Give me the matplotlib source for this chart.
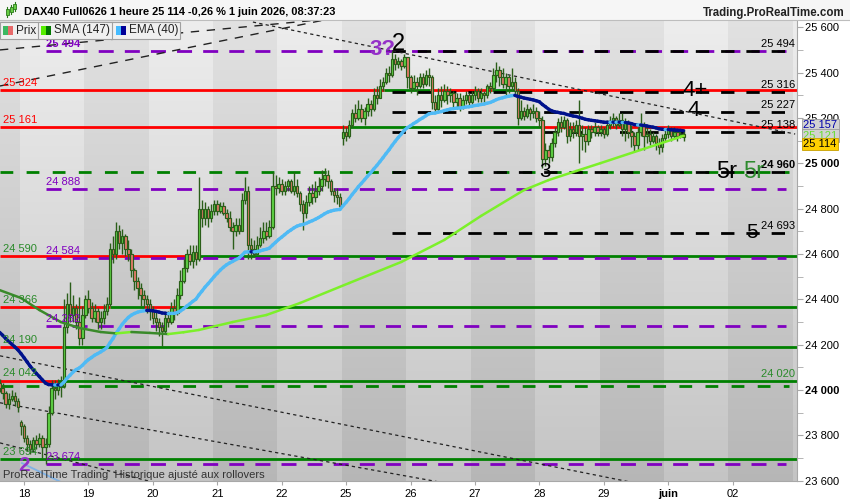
import numpy as np
import matplotlib
matplotlib.use('Agg')
import matplotlib.pyplot as plt
from matplotlib.collections import LineCollection
from matplotlib.patches import Rectangle
import matplotlib.transforms as mtrans

plt.rcParams['font.family'] = ['Liberation Sans', 'DejaVu Sans']

# ------------------------------------------------------------------ data
day_labels = ['18', '19', '20', '21', '22', '25', '26', '27', '28', '29', 'juin', '02']
bars_per_day = 21
first_day_bar = 7            # bars of previous session visible before day 18

close = [
    # previous session
    24010, 23985, 23940, 23960, 23975, 23950, 23925,
    # 18
    23840, 23790, 23760, 23740, 23780, 23760, 23790, 23750, 23760, 23900, 24010,
    24000, 24030, 24020, 24280, 24380, 24330, 24360, 24300, 24230, 24330,
    # 19
    24400, 24360, 24320, 24350, 24300, 24320, 24350, 24380, 24620, 24600, 24700,
    24650, 24680, 24620, 24600, 24530, 24480, 24450, 24420, 24400, 24380,
    # 20
    24350, 24320, 24300, 24280, 24260, 24320, 24300, 24360, 24340, 24420, 24480,
    24540, 24600, 24570, 24610, 24580, 24800, 24760, 24800, 24760, 24790,
    # 21
    24820, 24790, 24810, 24780, 24760, 24720, 24700, 24730, 24700, 24840, 24880,
    24640, 24620, 24600, 24640, 24670, 24700, 24680, 24720, 24900, 24890,
    # 22
    24910, 24880, 24900, 24920, 24880, 24900, 24870, 24820, 24780, 24830, 24870,
    24850, 24880, 24900, 24930, 24950, 24920, 24880, 24860, 24850, 24810,
    # 25
    25140, 25120, 25170, 25220, 25200, 25240, 25200, 25230, 25260, 25240, 25300,
    25290, 25340, 25360, 25400, 25390, 25460, 25440, 25450, 25430, 25470,
    # 26
    25380, 25330, 25360, 25340, 25380, 25350, 25390, 25380, 25270, 25240, 25300,
    25280, 25320, 25300, 25310, 25270, 25290, 25250, 25280, 25300, 25270,
    # 27
    25300, 25320, 25290, 25310, 25300, 25340, 25330, 25390, 25410, 25380, 25350,
    25380, 25340, 25360, 25320, 25200, 25230, 25210, 25240, 25220, 25230,
    # 28
    25200, 25190, 25020, 25060, 25030, 25090, 25140, 25180, 25160, 25190, 25120,
    25150, 25140, 25170, 25120, 25130, 25100, 25150, 25140, 25160, 25140,
    # 29
    25150, 25130, 25170, 25180, 25200, 25170, 25190, 25150, 25180, 25140, 25120,
    25080, 25140, 25170, 25120, 25130, 25100, 25120, 25090, 25070, 25110,
    # juin
    25130, 25150, 25120, 25140, 25120, 25130, 25114,
]
high = [
    24050, 24030, 23995, 23985, 24000, 23990, 23965,
    23870, 23850, 23800, 23780, 23795, 23800, 23810, 23800, 23790, 23930, 24045,
    24045, 24050, 24060, 24400, 24430, 24476, 24420, 24380, 24410, 24370,
    24420, 24440, 24390, 24380, 24360, 24350, 24380, 24410, 24650, 24680, 24740,
    24730, 24710, 24690, 24660, 24620, 24540, 24500, 24470, 24440, 24420,
    24400, 24370, 24350, 24320, 24300, 24340, 24350, 24390, 24400, 24450, 24530,
    24580, 24620, 24640, 24640, 24640, 24940, 24840, 24830, 24810, 24820,
    24840, 24840, 24830, 24830, 24800, 24790, 24740, 24760, 24760, 24870, 24940,
    24900, 24670, 24660, 24680, 24720, 24740, 24740, 24750, 24960, 24950,
    24940, 24930, 24920, 24930, 24930, 24960, 24930, 24880, 24840, 24860, 24900,
    24910, 24920, 24940, 24970, 24980, 24970, 24930, 24890, 24890, 24870,
    25170, 25160, 25190, 25240, 25260, 25280, 25260, 25250, 25290, 25280, 25330,
    25340, 25370, 25380, 25420, 25430, 25494, 25480, 25470, 25460, 25480,
    25450, 25390, 25390, 25380, 25400, 25400, 25410, 25420, 25390, 25300, 25330,
    25340, 25350, 25340, 25330, 25320, 25310, 25310, 25300, 25320, 25310,
    25320, 25340, 25330, 25330, 25320, 25350, 25360, 25420, 25445, 25430, 25420,
    25400, 25390, 25420, 25380, 25330, 25280, 25250, 25260, 25250, 25260,
    25250, 25230, 25210, 25090, 25080, 25110, 25160, 25200, 25210, 25210, 25200,
    25180, 25180, 25190, 25280, 25170, 25160, 25170, 25170, 25180, 25170,
    25170, 25160, 25190, 25210, 25220, 25210, 25220, 25220, 25200, 25190, 25170,
    25140, 25160, 25220, 25180, 25160, 25150, 25140, 25130, 25110, 25130,
    25150, 25170, 25160, 25160, 25150, 25150, 25150,
]
low = [
    23990, 23960, 23920, 23915, 23950, 23930, 23905,
    23800, 23770, 23730, 23720, 23730, 23740, 23750, 23700, 23674, 23750, 23890,
    23960, 23980, 23970, 24010, 24250, 24300, 24300, 24270, 24200, 24200,
    24320, 24340, 24300, 24300, 24270, 24270, 24290, 24330, 24370, 24560, 24580,
    24620, 24600, 24590, 24570, 24500, 24440, 24400, 24370, 24360, 24340,
    24310, 24290, 24260, 24240, 24195, 24250, 24280, 24290, 24310, 24330, 24400,
    24470, 24520, 24550, 24540, 24550, 24570, 24720, 24730, 24720, 24740,
    24770, 24770, 24780, 24770, 24740, 24700, 24620, 24680, 24690, 24700, 24820,
    24580, 24580, 24590, 24600, 24630, 24650, 24660, 24670, 24710, 24860,
    24870, 24860, 24860, 24880, 24870, 24860, 24850, 24790, 24706, 24760, 24810,
    24820, 24830, 24860, 24880, 24900, 24890, 24860, 24830, 24820, 24800,
    25080, 25100, 25110, 25160, 25180, 25190, 25180, 25170, 25210, 25210, 25230,
    25260, 25290, 25320, 25350, 25360, 25380, 25410, 25420, 25410, 25420,
    25330, 25310, 25320, 25300, 25330, 25330, 25340, 25340, 25240, 25220, 25230,
    25250, 25270, 25260, 25270, 25250, 25240, 25230, 25240, 25260, 25250,
    25260, 25280, 25270, 25270, 25270, 25290, 25310, 25320, 25360, 25340, 25330,
    25300, 25310, 25320, 25300, 25170, 25190, 25190, 25200, 25190, 25200,
    25180, 25160, 24980, 24990, 25000, 25010, 25070, 25120, 25140, 25150, 25090,
    25100, 25110, 25120, 25000, 25060, 25050, 25080, 25110, 25120, 25120,
    25120, 25110, 25120, 25150, 25160, 25150, 25160, 25120, 25100, 25110, 25070,
    25050, 25060, 25120, 25060, 25090, 25080, 25090, 25060, 25040, 25050,
    25100, 25110, 25100, 25110, 25100, 25110, 25100,
]
first_open = 24030
gap_opens = {7: 23860, 112: 25110}      # session opens with a gap

ema_period = 40
ema_seed = 24255                        # EMA(40) at first visible bar

# SMA(147) (bar index, value)
sma_bars = [0, 7, 13, 20, 26, 33, 38, 43, 49, 55, 60, 65, 76, 87, 98, 114,
            131, 145, 157, 171, 179, 188, 196, 209, 223]
sma_vals = [24441, 24406, 24353, 24300, 24274, 24256, 24250, 24256, 24252,
            24247, 24255, 24265, 24300, 24331, 24384, 24472, 24565, 24662,
            24768, 24882, 24926, 24966, 25001, 25059, 25121]

# support / resistance lines: level, [(from bar, price side)]
solid_levels = [
    (25324, [(None, 'below'), (125.5, 'above'), (140.5, 'below'), (160.5, 'above'), (168.5, 'below')]),
    (25161, [(None, 'below'), (113.5, 'above'), (177.5, 'below')]),
    (24590, [(None, 'below'), (63.5, 'above')]),
    (24366, [(None, 'below'), (36, 'above'), (47, 'below'), (58, 'above')]),
    (24190, [(None, 'below'), (20.5, 'above')]),
    (24042, [(None, 'below'), (19, 'above')]),
    (23694, [(None, 'above')]),
]
left_labels = [('25 324', 25324, 'below'), ('25 161', 25161, 'below'),
               ('24 590', 24590, 'above'), ('24 366', 24366, 'above'),
               ('24 190', 24190, 'above'), ('24 042', 24042, 'above'),
               ('23 694', 23694, 'above')]

purple_levels = [25494, 24888, 24584, 24282, 23674]
purple_start_bar = 15
black_levels = [25494, 25316, 25227, 25138, 24960, 24693]
black_start_bar = 128
green_dashed_levels = [24960, 24020]
right_labels = [('25 494', 25494), ('25 316', 25316), ('25 227', 25227),
                ('25 138', 25138), ('24 960', 24960), ('24 693', 24693)]

# hand-drawn trend lines ((bar, price), (bar, price))
dotted_lines = [((82.6, 25623), (259.4, 25129)),
                ((0.15, 24151), (208.8, 23586)),
                ((0.15, 23944), (146.9, 23586)),
                ((0.15, 23767), (52.3, 23586))]
dashed_lines = [((0.15, 25500), (107.7, 25637)),
                ((0.15, 25341), (107.7, 25637))]
blue_line = ((7.3, 23678), (21.3, 23586))

# wave labels (text, bar, price, colour key, size, bold)
wave_labels = [('3?', 124.7, 25500, 'purple', 16, True),
               ('2', 129.9, 25526, 'black', 17, False),
               ('4+', 226.8, 25319, 'black', 16, False),
               ('4', 226.4, 25235, 'black', 16, False),
               ('3', 177.9, 24966, 'black', 15, False),
               ('5r', 237.2, 24962, 'black', 17, False),
               ('5r', 245.7, 24962, 'green', 17, False),
               ('5', 245.3, 24693, 'black', 15, False),
               ('2', 8.0, 23669, 'purple', 15, True)]

last_price = 25114
ema_last, sma_last = 25157, 25121
title = "DAX40 Full0626 1 heure 25 114 -0,26 % 1 juin 2026, 08:37:23"

# ------------------------------------------------------------------ figure
W, H = 850, 500
fig = plt.figure(figsize=(W / 100, H / 100), dpi=100, facecolor='white')
ax = fig.add_axes([0, 1 - 481 / H, 797 / W, 461 / H])

n = len(close)
x = np.arange(n)
opens = [first_open] + close[:-1]
for k, v in gap_opens.items():
    opens[k] = v
opens = np.array(opens, float)
close_a = np.array(close, float)

ylo, yhi = 23599, 25632
xlo, xhi = 0.153, 260.0
ax.set_xlim(xlo, xhi)
ax.set_ylim(ylo, yhi)

# background: alternate day bands with vertical gradient
nb = 14
b0 = first_day_bar - 0.3 - bars_per_day
img = np.zeros((256, nb, 3))
t = np.linspace(0, 1, 256)[:, None]
for k in range(nb):
    dark = (k % 2 == 0)
    top, bot = (0.885, 0.715) if dark else (0.93, 0.77)
    img[:, k, :] = (top + (bot - top) * t)
ax.imshow(img, extent=(b0, b0 + nb * bars_per_day, ylo, yhi), aspect='auto',
          origin='upper', interpolation='nearest', zorder=0)

side_col = {'below': '#ff0000', 'above': '#008000'}
for lvl, segs in solid_levels:
    for j, (s, side) in enumerate(segs):
        a = xlo if s is None else s
        b = xhi if j == len(segs) - 1 else segs[j + 1][0]
        ax.plot([a, b], [lvl, lvl], color=side_col[side], lw=2.0,
                solid_capstyle='butt', zorder=2)

for lvl in green_dashed_levels:
    ax.plot([xlo, 257.5], [lvl, lvl], color='#008000', lw=2.0,
            ls=(0, (4.6, 4.8)), zorder=2)
for lvl in purple_levels:
    ax.plot([purple_start_bar, 256.5], [lvl, lvl], color='#8000c0', lw=2.0,
            ls=(0, (5.4, 4.0)), zorder=2)
for lvl in black_levels:
    ax.plot([black_start_bar, 259.5], [lvl, lvl], color='black', lw=2.0,
            ls=(0, (4.8, 4.3)), zorder=2.1)

for (a, b) in dotted_lines:
    ax.plot([a[0], b[0]], [a[1], b[1]], color='#222222', lw=0.9,
            ls=(0, (2.6, 2.6)), zorder=2.2)
for (a, b) in dashed_lines:
    ax.plot([a[0], b[0]], [a[1], b[1]], color='#222222', lw=1.0,
            ls=(0, (6, 5.5)), zorder=2.2)
ax.plot([blue_line[0][0], blue_line[1][0]], [blue_line[0][1], blue_line[1][1]],
        color='#7fb2e5', lw=1.3, zorder=2.2)

# candles
hi_a, lo_a = np.array(high, float), np.array(low, float)
ax.vlines(x, lo_a, hi_a, color='#2b5e1a', lw=1.0, zorder=3)
up = close_a >= opens
body_h = np.where(np.abs(close_a - opens) < 4, 4, close_a - opens)
ax.bar(x, body_h, bottom=opens, width=0.8,
       color=np.where(up, '#5fd545', '#e47a6a'), edgecolor='#2b5e1a',
       linewidth=0.85, zorder=3.1)

# EMA(40)
alpha = 2 / (ema_period + 1)
ema = np.empty(n)
ema[0] = ema_seed
for i in range(1, n):
    ema[i] = ema[i - 1] + alpha * (close_a[i] - ema[i - 1])
segs = [[(x[i], ema[i]), (x[i + 1], ema[i + 1])] for i in range(n - 1)]
cols = ['#00128c' if ema[i + 1] < ema[i] else '#4fbaf5' for i in range(n - 1)]
ax.add_collection(LineCollection(segs, colors=cols, lw=2.4, zorder=4,
                                 capstyle='round'))

# SMA(147)
segs = [[(sma_bars[i], sma_vals[i]), (sma_bars[i + 1], sma_vals[i + 1])]
        for i in range(len(sma_bars) - 1)]
cols = ['#3a8a2a' if sma_vals[i + 1] < sma_vals[i] else '#7cf02a'
        for i in range(len(sma_bars) - 1)]
ax.add_collection(LineCollection(segs, colors=cols, lw=1.8, zorder=4,
                                 capstyle='round'))

# level labels
lab_green = '#2a8a2a'
for txt, lvl, side in left_labels:
    ax.annotate(txt, (1.2, lvl), xytext=(0, 1.5), textcoords='offset points',
                ha='left', va='bottom', fontsize=8,
                color='#ff0000' if side == 'below' else lab_green, zorder=5)
for lvl in purple_levels:
    ax.annotate(f"{lvl // 1000} {lvl % 1000:03d}", (purple_start_bar, lvl),
                xytext=(0, 1.5), textcoords='offset points', ha='left',
                va='bottom', fontsize=8, color='#8000c0',
                fontweight='bold' if lvl == 25494 else 'normal', zorder=5)
for txt, lvl in right_labels:
    ax.annotate(txt, (259.3, lvl), xytext=(0, 1.5), textcoords='offset points',
                ha='right', va='bottom', fontsize=8, color='black',
                fontweight='bold' if lvl == 24960 else 'normal', zorder=5)
ax.annotate('24 020', (259.3, 24042), xytext=(0, 1.0), textcoords='offset points',
            ha='right', va='bottom', fontsize=8, color=lab_green, zorder=5)

wcol = {'purple': '#9430c8', 'black': 'black', 'green': '#2e8b2e'}
for txt, bx, pv, ck, sz, bold in wave_labels:
    ax.text(bx, pv, txt, ha='center', va='center', fontsize=sz,
            color=wcol[ck], fontweight='bold' if bold else 'normal', zorder=6)

ax.text(0.004, 0.014, 'ProRealTime Trading  Historique ajusté aux rollovers',
        transform=ax.transAxes, fontsize=8, color='#333333', ha='left',
        va='center', zorder=6)

# axes styling
for s in ('left', 'top'):
    ax.spines[s].set_visible(False)
for s in ('right', 'bottom'):
    ax.spines[s].set_color('#a8a8a8')
ax.yaxis.tick_right()
yt = list(range(23600, 25601, 200))
ax.set_yticks(yt)
ax.set_yticks(list(range(23700, 25600, 200)), minor=True)
ax.set_yticklabels([f"{v // 1000} {v % 1000:03d}" for v in yt], fontsize=8)
for lab, v in zip(ax.get_yticklabels(), yt):
    if v % 1000 == 0:
        lab.set_fontweight('bold')
ax.tick_params(axis='y', which='both', length=4, color='#a8a8a8', pad=2)
xt = [first_day_bar + bars_per_day * k + 1 for k in range(len(day_labels))]
ax.set_xticks(xt)
ax.set_xticklabels(day_labels, fontsize=8)
for lab, t_ in zip(ax.get_xticklabels(), day_labels):
    if t_ == 'juin':
        lab.set_fontweight('bold')
ax.tick_params(axis='x', length=3, color='#a8a8a8', pad=3)

# right side price boxes
bt = mtrans.blended_transform_factory(ax.transAxes, ax.transData)
ax.text(1.008, 25169, f"{ema_last // 1000} {ema_last % 1000:03d}", transform=bt,
        fontsize=8, color='#0000aa', va='center', ha='left',
        bbox=dict(boxstyle='square,pad=0.12', fc='#d2d2d2', ec='#9a9a9a', lw=0.6),
        zorder=7, clip_on=False)
ax.text(1.008, 25122, f"{sma_last // 1000} {sma_last % 1000:03d}", transform=bt,
        fontsize=8, color='#66dd33', va='center', ha='left',
        bbox=dict(boxstyle='square,pad=0.12', fc='#d2d2d2', ec='#9a9a9a', lw=0.6),
        zorder=7, clip_on=False)
ax.text(1.008, 25085, f"{last_price // 1000} {last_price % 1000:03d}", transform=bt,
        fontsize=8, color='black', va='center', ha='left',
        bbox=dict(boxstyle='square,pad=0.12', fc='#ffd000', ec='#c8a000', lw=0.6),
        zorder=8, clip_on=False)

# header strip
fig.patches.append(Rectangle((0, 1 - 20 / H), 1, 20 / H, transform=fig.transFigure,
                             fc='#f6f6f6', ec='none', zorder=1))
fig.lines.append(plt.Line2D([0, 1], [1 - 20 / H, 1 - 20 / H], transform=fig.transFigure,
                            color='#bdbdbd', lw=0.8, zorder=2))
fig.text(24 / W, 1 - 12 / H, title, fontsize=7.9, fontweight='bold', va='center',
         ha='left', color='black')
fig.text(845 / W, 1 - 13 / H, 'Trading.ProRealTime.com', fontsize=8.3,
         fontweight='bold', va='center', ha='right', color='#222222')
# small candle icon
for (cx, y0, y1, w0, w1) in [(7, 7, 17, 9, 15), (11, 5, 14, 7, 12), (15, 2, 11, 4, 9)]:
    fig.lines.append(plt.Line2D([cx / W, cx / W], [1 - y1 / H, 1 - y0 / H],
                                transform=fig.transFigure, color='#2b7a1a', lw=0.8))
    fig.patches.append(Rectangle(((cx - 1.5) / W, 1 - w1 / H), 3 / W, (w1 - w0) / H,
                                 transform=fig.transFigure, fc='#66cc44', ec='#2b7a1a',
                                 lw=0.6, zorder=3))

# legend boxes
def fx(px):
    return px / W


def fy(py):
    return 1 - py / H


fig.patches.append(Rectangle((fx(0), fy(39)), fx(180), 17 / H, transform=fig.transFigure,
                             fc='#f0f0f0', ec='#a0a0a0', lw=0.8, zorder=9))
for dx in (38, 112):
    fig.lines.append(plt.Line2D([fx(dx), fx(dx)], [fy(39), fy(22)], transform=fig.transFigure,
                                color='#a0a0a0', lw=0.8, zorder=10))
legend_items = [(3, '#3cb862', '#e86a6a', 'Prix'), (41, '#55ee00', '#007700', 'SMA (147)'),
                (116, '#44bbff', '#000099', 'EMA (40)')]
for px, c1, c2, lab in legend_items:
    fig.patches.append(Rectangle((fx(px), fy(35)), 5 / W, 9 / H, transform=fig.transFigure,
                                 fc=c1, ec='none', zorder=10))
    fig.patches.append(Rectangle((fx(px + 5), fy(35)), 5 / W, 9 / H, transform=fig.transFigure,
                                 fc=c2, ec='none', zorder=10))
    fig.text(fx(px + 13), fy(30.5), lab, fontsize=8.5, va='center', ha='left',
             color='#222222', zorder=11)

fig.savefig('out.png', dpi=100)
